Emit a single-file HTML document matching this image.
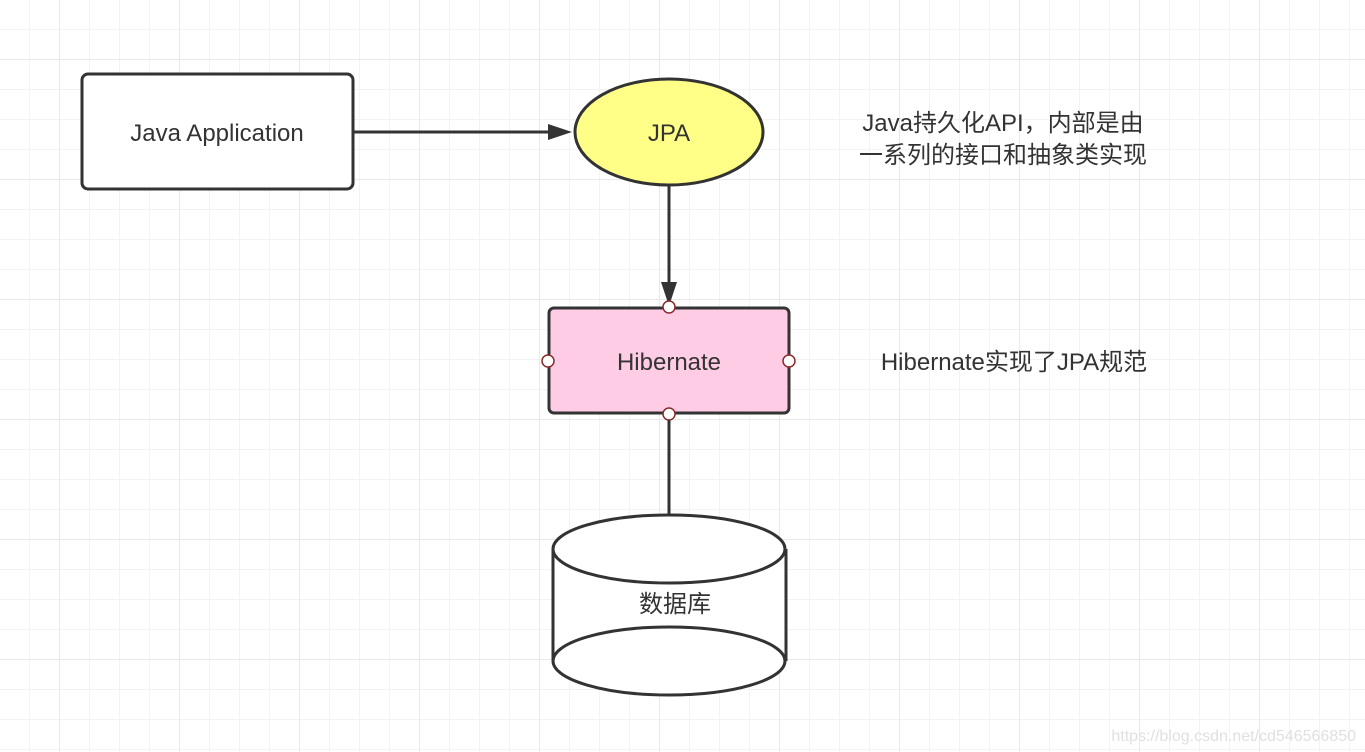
<!DOCTYPE html>
<html><head><meta charset="utf-8"><style>
html,body{margin:0;padding:0;background:#fff;}
svg{display:block;}
text{font-family:"Liberation Sans","Noto Sans CJK SC",sans-serif;fill:#333;}
</style></head><body>
<svg width="1365" height="752" viewBox="0 0 1365 752" xmlns="http://www.w3.org/2000/svg">
<defs>
<pattern id="minor" width="30" height="30" patternUnits="userSpaceOnUse">
<path d="M30 0V30M0 30H30" stroke="#f3f3f3" stroke-width="2" fill="none"/>
</pattern>
<pattern id="major" x="-60" y="-60" width="120" height="120" patternUnits="userSpaceOnUse">
<path d="M120 0V120M0 120H120" stroke="#e9e9e9" stroke-width="2" fill="none"/>
</pattern>
</defs>
<rect width="1365" height="752" fill="url(#minor)"/>
<rect width="1365" height="752" fill="url(#major)"/>

<rect x="82" y="74" width="271" height="115" rx="6" fill="#fff" stroke="#333" stroke-width="3"/>
<text x="217" y="141" font-size="24" text-anchor="middle">Java Application</text>

<line x1="353" y1="132" x2="552" y2="132" stroke="#333" stroke-width="3"/>
<polygon points="572,132 548,124 548,140" fill="#333"/>

<ellipse cx="669" cy="132" rx="94" ry="53" fill="#ffff88" stroke="#333" stroke-width="3"/>
<text x="669" y="141" font-size="24" text-anchor="middle">JPA</text>

<text x="1003" y="131" font-size="24" text-anchor="middle">Java持久化API，内部是由</text>
<text x="1003" y="163" font-size="24" text-anchor="middle">一系列的接口和抽象类实现</text>

<line x1="669" y1="185" x2="669" y2="285" stroke="#333" stroke-width="3"/>
<polygon points="669,306 661,282 677,282" fill="#333"/>

<rect x="549" y="308" width="240" height="105" rx="5" fill="#ffcce6" stroke="#333" stroke-width="3"/>
<text x="669" y="370" font-size="24" text-anchor="middle">Hibernate</text>
<g fill="#fff" stroke="#8b2a2a" stroke-width="1.5">
<circle cx="669" cy="307" r="6"/><circle cx="669" cy="414" r="6"/>
<circle cx="548" cy="361" r="6"/><circle cx="789" cy="361" r="6"/>
</g>
<text x="1014" y="370" font-size="24" text-anchor="middle">Hibernate实现了JPA规范</text>

<line x1="669" y1="420" x2="669" y2="516" stroke="#333" stroke-width="3"/>

<path d="M553 549V661M786 549V661" stroke="#333" stroke-width="3"/>
<rect x="553" y="549" width="233" height="112" fill="#fff"/>
<path d="M553 549V661M786 549V661" stroke="#333" stroke-width="3"/>
<ellipse cx="669" cy="661" rx="116" ry="34" fill="#fff" stroke="#333" stroke-width="3"/>
<ellipse cx="669" cy="549" rx="116" ry="34" fill="#fff" stroke="#333" stroke-width="3"/>
<text x="675" y="612" font-size="24" text-anchor="middle">数据库</text>

<text x="1356" y="741" font-size="16" text-anchor="end" style="fill:#e0e0e0">https://blog.csdn.net/cd546566850</text>
</svg>
</body></html>
